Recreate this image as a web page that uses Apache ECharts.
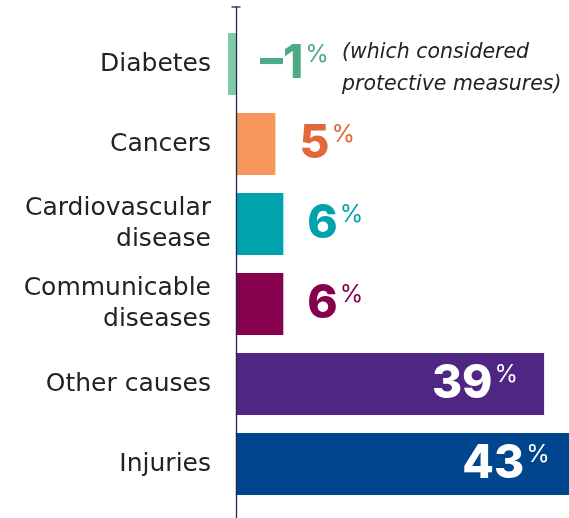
<!DOCTYPE html>
<html><head><meta charset="utf-8">
<script src="https://cdn.jsdelivr.net/npm/echarts@6/dist/echarts.min.js"></script>
<style>html,body{margin:0;padding:0;background:#fff}#c{width:569px;height:518px}</style>
</head><body><div id="c"></div>
<script>
const categories = ['Diabetes', 'Cancers', 'Cardiovascular\ndisease', 'Communicable\ndiseases', 'Other causes', 'Injuries'];
const values = [-1, 5, 6, 6, 39, 43];
const barColors = ['#7dcbaa', '#f5975a', '#00a3ad', '#85004d', '#4f2683', '#00468e'];
const labelColors = ['#4caa84', '#e2673a', '#00a3ad', '#85004d', '#ffffff', '#ffffff'];
const noteText = '(which considered\nprotective measures)';

const chart = echarts.init(document.getElementById('c'));
const data = values.map((v, i) => {
  const inside = v >= 30;
  return {
    value: v,
    itemStyle: { color: barColors[i] },
    label: {
      show: true,
      position: inside ? 'insideRight' : 'right',
      distance: inside ? 26 : 24,
      formatter: p => '{n|' + (p.value < 0 ? '\u2013' + Math.abs(p.value) : p.value) + '}{p|%}',
      rich: {
        n: { fontSize: 46, fontWeight: 800, fontFamily: 'Inter', color: labelColors[i], lineHeight: 50 },
        p: { fontSize: 24, fontFamily: 'Inter', color: labelColors[i], verticalAlign: 'top', lineHeight: 36, padding: [4, 0, 0, 2] }
      }
    }
  };
});

chart.setOption({
  animation: false,
  grid: [
    { left: 228, right: 0, top: 24, bottom: 14 },
    { left: 236, right: 0, top: 7, bottom: 0 }
  ],
  xAxis: [
    { gridIndex: 0, type: 'value', min: -1, max: 42.15, show: false },
    { gridIndex: 1, type: 'value', min: 0, max: 1, show: false }
  ],
  yAxis: [
    {
      gridIndex: 0, type: 'category', data: categories, inverse: true,
      axisLine: { show: false }, axisTick: { show: false },
      axisLabel: { margin: 17, fontSize: 25, fontFamily: 'DejaVu Sans', color: '#222222', lineHeight: 31, align: 'right' }
    },
    {
      gridIndex: 1, type: 'value', min: 0, max: 1, z: 10,
      axisLine: { show: true, lineStyle: { color: '#1c2b4b', width: 1.3 }, symbol: ['none', 'rect'], symbolSize: [9, 1.3] },
      axisTick: { show: false }, axisLabel: { show: false }, splitLine: { show: false }
    }
  ],
  graphic: [{
    type: 'text',
    style: {
      text: noteText, x: 342, y: 37, verticalAlign: 'top',
      font: 'italic 20.5px "DejaVu Sans"', fill: '#222222', lineHeight: 32
    }
  }],
  series: [{
    type: 'bar', xAxisIndex: 0, yAxisIndex: 0, data: data,
    barWidth: 62, clip: false
  }]
});
</script></body></html>
